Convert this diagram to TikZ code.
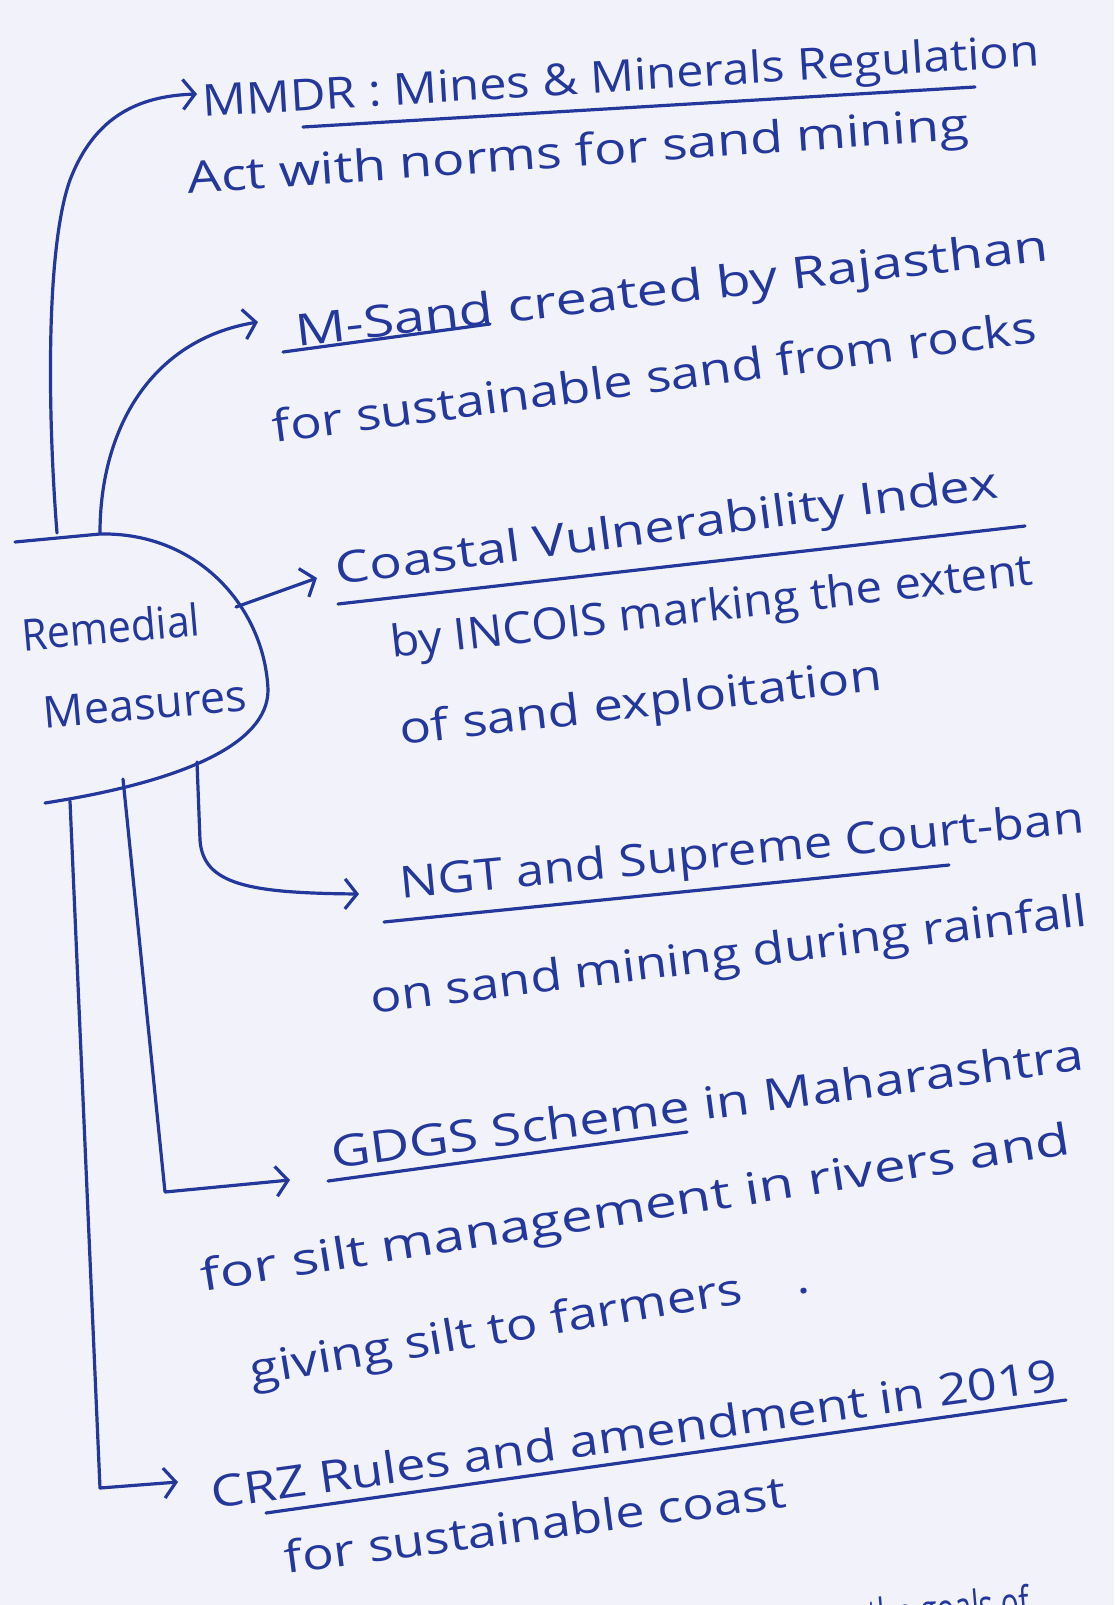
\documentclass[tikz,border=0pt]{standalone}
\usepackage{fontspec}
\setmainfont{Open Sans}
\usetikzlibrary{arrows.meta}
\definecolor{ink}{RGB}{36,56,156}
\definecolor{paper}{RGB}{242,242,250}
\newcommand{\fitw}[2]{\resizebox{#1}{\height}{#2}}
\tikzset{
 hw/.style={text=ink, font=\fontsize{44}{50}\selectfont, inner sep=0pt, anchor=center},
 pen/.style={draw=ink, line width=3.2pt, line cap=round, line join=round},
 arr/.style={pen, -{Straight Barb[length=12pt,width=30pt]}},
}
\begin{document}
\begin{tikzpicture}[x=1pt,y=-1pt]
\fill[paper] (0,0) rectangle (1114,1605);
\useasboundingbox (0,0) rectangle (1114,1605);

% central D-shaped node
\coordinate (dTL) at (15,542);
\coordinate (dT) at (100,534);
\coordinate (dR) at (268,690);
\coordinate (dBL) at (45,803);
\draw[pen] (dTL) -- (dT) .. controls (200,532) and (265,610) .. (dR)
  .. controls (268,745) and (180,782) .. (dBL);
\node[hw, rotate=5] (rm1) at (111,627) {\fitw{178pt}{Remedial}};
\node[hw, rotate=5] (rm2) at (145,704) {\fitw{204pt}{Measures}};

% start points on the D
\coordinate (s1) at (57,533);
\coordinate (s2) at (100,533);
\coordinate (s3) at (236,607);
\coordinate (s4) at (197,762);
\coordinate (s5) at (123,779);
\coordinate (s6) at (70,801);

% text lines
\node[hw, rotate=3.5] (t1) at (621,80) {\fitw{838pt}{MMDR : Mines \& Minerals Regulation}};
\node[hw, rotate=4] (t1b) at (578,155) {\fitw{783pt}{Act with norms for sand mining}};
\node[hw, rotate=6.5] (t2) at (672,292) {\fitw{757pt}{M-Sand created by Rajasthan}};
\node[hw, rotate=7.5] (t2b) at (654,376) {\fitw{770pt}{for sustainable sand from rocks}};
\node[hw, rotate=7.5] (t3) at (667,530) {\fitw{667pt}{Coastal Vulnerability Index}};
\node[hw, rotate=6.5] (t3b) at (712,610) {\fitw{646pt}{by INCOIS marking the extent}};
\node[hw, rotate=6.5] (t3c) at (641,706) {\fitw{485pt}{of sand exploitation}};
\node[hw, rotate=5.5] (t4) at (742,854) {\fitw{687pt}{NGT and Supreme Court-ban}};
\node[hw, rotate=7] (t4b) at (729,958) {\fitw{722pt}{on sand mining during rainfall}};
\node[hw, rotate=7.5] (t5) at (707,1103) {\fitw{758pt}{GDGS Scheme in Maharashtra}};
\node[hw, rotate=9] (t5b) at (636,1211) {\fitw{879pt}{for silt management in rivers and}};
\node[hw, rotate=9.5] (t5c) at (530,1327) {\fitw{566pt}{giving silt to farmers\hspace{45pt}.}};
\node[hw, rotate=8] (t6) at (634,1433) {\fitw{853pt}{CRZ Rules and amendment in 2019}};
\node[hw, rotate=7.5] (t6b) at (535,1524) {\fitw{505pt}{for sustainable coast}};
\node[hw, rotate=5] (t7) at (949,1613) {\fitw{162pt}{the goals of}};

% underlines
\draw[pen] (303,127) -- (975,87);
\draw[pen] (283,352) -- (490,324);
\draw[pen] (338,604) -- (1025,526);
\draw[pen] (384,922) -- (949,865);
\draw[pen] (328,1181) -- (687,1132);
\draw[pen] (266,1513) -- (1066,1400);

% arrow tips
\coordinate (e1) at (197,94);
\coordinate (e2) at (258,322);
\coordinate (e3) at (317,578);
\coordinate (e4) at (359,894);
\coordinate (e5) at (290,1180);
\coordinate (e6) at (178,1482);

% connectors
\draw[arr] (s1) .. controls (48,420) and (45,250) .. (70,180)
  .. controls (95,115) and (140,96) .. (e1);
\draw[arr] (s2) .. controls (100,430) and (150,340) .. (e2);
\draw[arr] (s3) -- (e3);
\draw[arr] (s4) -- (200,840) .. controls (203,885) and (250,893) .. (e4);
\draw[arr] (s5) -- (165,1192) -- (e5);
\draw[arr] (s6) -- (100,1488) -- (e6);
\end{tikzpicture}
\end{document}
